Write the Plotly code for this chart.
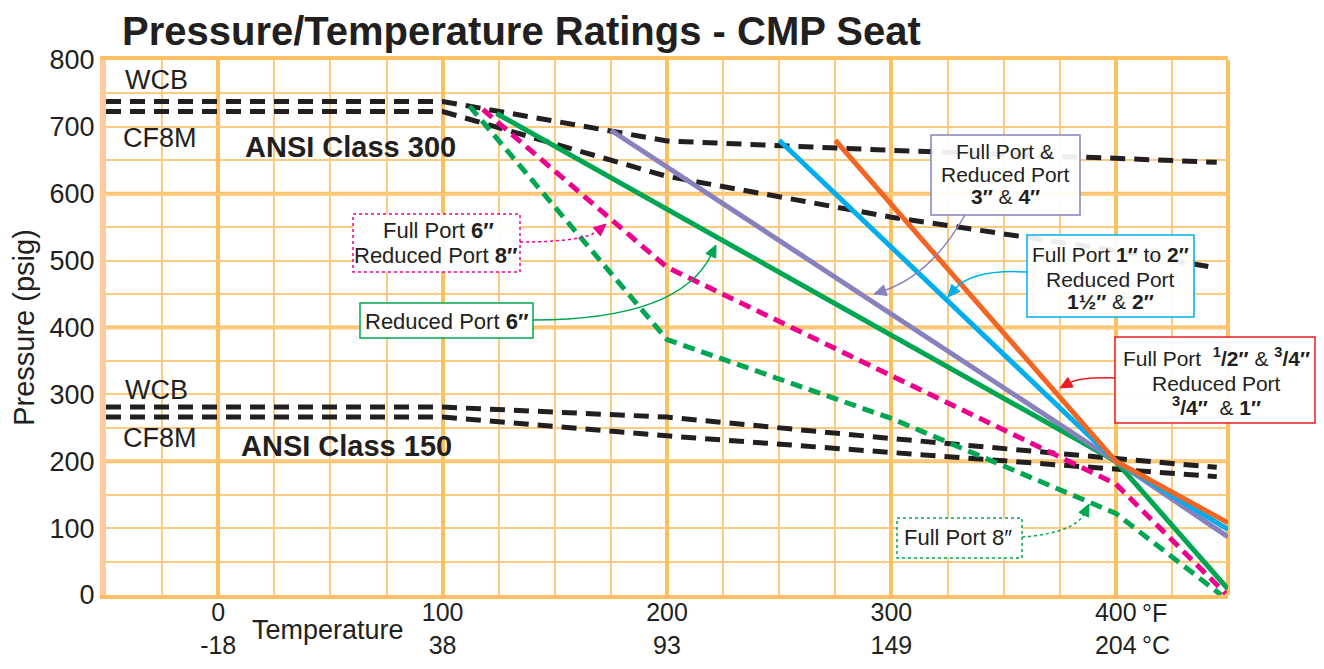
import math
import plotly.graph_objects as go

# ---------------- data ----------------
temp_wcb300 = [-50, 100, 200, 300, 400, 445]
psi_wcb300 = [738, 738, 679, 665, 653, 647]
temp_cf8m300 = [-50, 100, 200, 300, 400, 445]
psi_cf8m300 = [723, 723, 626, 565, 515, 489]
temp_wcb150 = [-50, 100, 200, 300, 400, 445]
psi_wcb150 = [281, 281, 266, 234, 204, 191]
temp_cf8m150 = [-50, 100, 200, 300, 400, 445]
psi_cf8m150 = [266, 266, 238, 213, 189, 177]

temp_fp_half = [275, 400, 450]          # Full Port 1/2" & 3/4", Reduced 3/4" & 1"
psi_fp_half = [680, 200, 108]
temp_fp_1to2 = [250, 400, 450]          # Full Port 1" to 2", Reduced 1 1/2" & 2"
psi_fp_1to2 = [680, 200, 98]
temp_fp_3to4 = [175, 400, 450]          # Full & Reduced Port 3" & 4"
psi_fp_3to4 = [695, 200, 87]
temp_rp6 = [124, 400, 450]              # Reduced Port 6"
psi_rp6 = [720, 200, 9]
temp_fp6 = [118, 200, 400, 449]         # Full Port 6", Reduced Port 8"
psi_fp6 = [726, 490, 166, 2]
temp_fp8 = [112, 200, 300, 400, 447]    # Full Port 8"
psi_fp8 = [731, 382, 264, 122, 0]

x_tick_f = [0, 100, 200, 300, 400]
x_tick_c = [-18, 38, 93, 149, 204]
y_ticks = [0, 100, 200, 300, 400, 500, 600, 700, 800]

# ---------------- styling ----------------
SCREEN_W, SCREEN_H = 1324, 669
OFF = 8                                   # default page body margin
W, H = SCREEN_W - 2 * OFF, SCREEN_H - 2 * OFF
# plot area edges in screen pixels
PL, PR, PT, PB = 106, 1228, 60, 595
FONT = "Liberation Sans, Arial, Helvetica, sans-serif"
INK = "#231F20"
GRID_THIN = "#FDCB80"
GRID_THICK = "#FCC062"
BLACK = "#231F20"
ORANGE = "#F26522"
CYAN = "#00AEEF"
PURPLE = "#8781BD"
GREEN = "#00A651"
MAGENTA = "#EC008C"
RED = "#ED1C24"


def xp(px):
    return (px - PL) / (PR - PL)


def yp(py):
    return (PB - py) / (PB - PT)


fig = go.Figure()

black_dash = "15px,9px"
color_dash = "12px,7px"
for t, p in [(temp_wcb300, psi_wcb300), (temp_cf8m300, psi_cf8m300),
             (temp_wcb150, psi_wcb150), (temp_cf8m150, psi_cf8m150)]:
    fig.add_trace(go.Scatter(x=t, y=p, mode="lines",
                             line=dict(color=BLACK, width=5, dash=black_dash),
                             hoverinfo="skip"))

fig.add_trace(go.Scatter(x=temp_fp8, y=psi_fp8, mode="lines",
                         line=dict(color=GREEN, width=5, dash=color_dash)))
fig.add_trace(go.Scatter(x=temp_fp6, y=psi_fp6, mode="lines",
                         line=dict(color=MAGENTA, width=5, dash=color_dash)))
fig.add_trace(go.Scatter(x=temp_rp6, y=psi_rp6, mode="lines",
                         line=dict(color=GREEN, width=5)))
fig.add_trace(go.Scatter(x=temp_fp_3to4, y=psi_fp_3to4, mode="lines",
                         line=dict(color=PURPLE, width=5)))
fig.add_trace(go.Scatter(x=temp_fp_1to2, y=psi_fp_1to2, mode="lines",
                         line=dict(color=CYAN, width=5)))
fig.add_trace(go.Scatter(x=temp_fp_half, y=psi_fp_half, mode="lines",
                         line=dict(color=ORANGE, width=5)))

shapes = []
annotations = []

# thick horizontal grid lines every 200 psig
for v in [200, 400, 600]:
    shapes.append(dict(type="line", xref="paper", x0=0, x1=1, yref="y", y0=v, y1=v,
                       line=dict(color=GRID_THICK, width=4), layer="below"))
# right frame edge
shapes.append(dict(type="line", xref="paper", x0=1, x1=1, yref="paper", y0=0, y1=1,
                   line=dict(color=GRID_THICK, width=4), layer="below"))


def box(x0, y0, x1, y1, color, dash="solid"):
    shapes.append(dict(type="rect", xref="paper", yref="paper",
                       x0=xp(x0), x1=xp(x1), y0=yp(y0), y1=yp(y1),
                       line=dict(color=color, width=1.5, dash=dash),
                       fillcolor="rgba(255,255,255,0.92)", layer="above"))


def label(text, px, py, size=21, bold=False, anchor="center"):
    annotations.append(dict(text=f"<b>{text}</b>" if bold else text,
                            xref="paper", yref="paper", x=xp(px), y=yp(py),
                            xanchor=anchor, yanchor="middle", showarrow=False,
                            font=dict(family=FONT, size=size, color=INK)))


def arrow(p0, c, tip, color, dash="solid"):
    vx, vy = tip[0] - c[0], tip[1] - c[1]
    n = math.hypot(vx, vy)
    ux, uy = vx / n, vy / n
    L, hw = 12, 5.5
    bx, by = tip[0] - L * ux, tip[1] - L * uy
    path = (f"M {xp(p0[0])},{yp(p0[1])} Q {xp(c[0])},{yp(c[1])} "
            f"{xp(bx + 2 * ux)},{yp(by + 2 * uy)}")
    shapes.append(dict(type="path", path=path, xref="paper", yref="paper",
                       line=dict(color=color, width=1.5, dash=dash), layer="above"))
    head = (f"M {xp(tip[0])},{yp(tip[1])} "
            f"L {xp(bx - hw * uy)},{yp(by + hw * ux)} "
            f"L {xp(bx + hw * uy)},{yp(by - hw * ux)} Z")
    shapes.append(dict(type="path", path=head, xref="paper", yref="paper",
                       line=dict(color=color, width=1), fillcolor=color,
                       layer="above"))


# boxes
box(353, 214, 520, 272, MAGENTA, "dot")
box(360, 303, 533, 338, GREEN)
box(931, 135, 1080, 215, PURPLE)
box(1027, 235, 1194, 317, CYAN)
box(1115, 337, 1315, 423, RED)
box(897, 518, 1022, 558, GREEN, "dot")

# arrows
arrow((520, 242), (585, 242), (606, 224), MAGENTA, "dot")
arrow((533, 320), (680, 320), (716, 245), GREEN)
arrow((965, 215), (931, 275), (874, 294), PURPLE)
arrow((1027, 272), (972, 269), (948, 297), CYAN)
arrow((1115, 378), (1080, 377), (1060, 388), RED)
arrow((1022, 537), (1075, 533), (1089, 504), GREEN, "dot")

# box texts
label("Full Port <b>6″</b>", 438, 231, 22)
label("Reduced Port <b>8″</b>", 436, 255, 22)
label("Reduced Port <b>6″</b>", 447, 321, 22)
label("Full Port &amp;", 1005, 152, 21)
label("Reduced Port", 1005, 174, 21)
label("<b>3″</b> &amp; <b>4″</b>", 1005, 196, 21)
label("Full Port <b>1″</b> to <b>2″</b>", 1110, 254, 21)
label("Reduced Port", 1110, 279, 21)
label("<b>1½″</b> &amp; <b>2″</b>", 1110, 301, 21)
label("Full Port  <b><sup>1</sup>/2″</b> &amp; <b><sup>3</sup>/4″</b>", 1216, 357, 21)
label("Reduced Port", 1216, 384, 21)
label("<b><sup>3</sup>/4″</b>  &amp; <b>1″</b>", 1216, 406, 21)
label("Full Port 8″", 958, 537, 22)

# chart labels
label("WCB", 156, 80, 27)
label("CF8M", 160, 138, 27)
label("ANSI Class 300", 350, 147, 29, bold=True)
label("WCB", 156, 390, 27)
label("CF8M", 160, 438, 27)
label("ANSI Class 150", 346, 446, 29, bold=True)
label("Temperature", 328, 630, 27)
label("°F", 1140, 613, 25, anchor="left")
label("°C", 1140, 645, 25, anchor="left")

fig.update_layout(
    width=W, height=H,
    margin=dict(l=PL - OFF, r=(OFF + W) - PR, t=PT - OFF, b=(OFF + H) - PB, pad=0),
    paper_bgcolor="white", plot_bgcolor="white",
    showlegend=False,
    font=dict(family=FONT, color=INK, size=27),
    title=dict(text="<b>Pressure/Temperature Ratings - CMP Seat</b>",
               xref="container", yref="container",
               x=(122 - OFF) / W, y=1 - (31 - OFF) / H,
               xanchor="left", yanchor="middle",
               font=dict(family=FONT, size=40, color=INK)),
    xaxis=dict(range=[-50, 450], tickmode="array", tickvals=x_tick_f,
               ticktext=[f"{f}<br>{c}" for f, c in zip(x_tick_f, x_tick_c)],
               ticks="", showgrid=True, gridcolor=GRID_THICK, gridwidth=4,
               minor=dict(tickmode="linear", tick0=0, dtick=25, showgrid=True,
                          gridcolor=GRID_THIN, gridwidth=2, ticks=""),
               zeroline=False, showline=True, linecolor=GRID_THICK, linewidth=4,
               mirror=True, ticklabelstandoff=-8, automargin=False,
               tickfont=dict(family=FONT, size=25, color=INK)),
    yaxis=dict(range=[0, 800], tickmode="array", tickvals=y_ticks,
               ticks="", showgrid=True, gridcolor=GRID_THIN, gridwidth=2,
               minor=dict(tickmode="linear", tick0=0, dtick=50, showgrid=True,
                          gridcolor=GRID_THIN, gridwidth=2, ticks=""),
               zeroline=False, showline=True, linecolor="#FDCA9E", linewidth=6,
               ticklabelstandoff=0, automargin=False,
               tickfont=dict(family=FONT, size=27, color=INK),
               title=dict(text="Pressure (psig)", standoff=12,
                          font=dict(family=FONT, size=29, color=INK))),
    shapes=shapes,
    annotations=annotations,
)

fig.write_html("out.html")
